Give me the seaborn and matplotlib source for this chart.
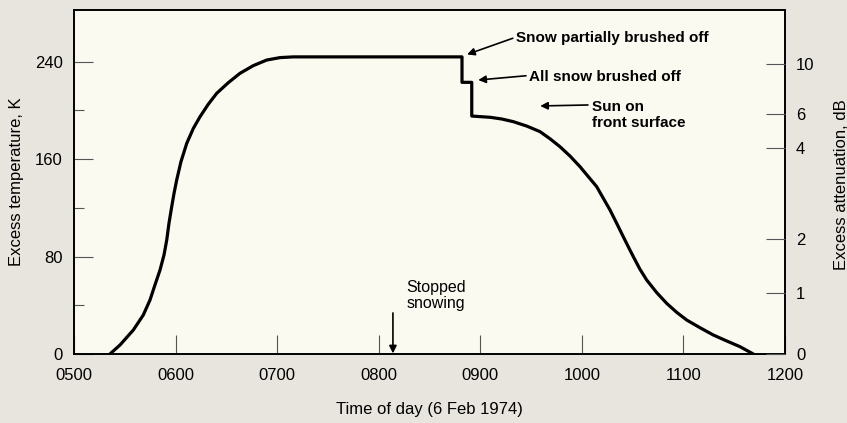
import matplotlib.pyplot as plt
import seaborn as sns
import pandas as pd

sns.set_theme(style="white")
plt.rcParams['font.family'] = ['Liberation Sans', 'DejaVu Sans']
plt.rcParams['text.color'] = 'black'
plt.rcParams['axes.labelcolor'] = 'black'
plt.rcParams['xtick.color'] = 'black'
plt.rcParams['ytick.color'] = 'black'

# time of day in decimal hours, excess temperature in K
rise_time = [5.354, 5.453, 5.584, 5.682, 5.748, 5.797, 5.847, 5.886, 5.913, 5.935, 5.962,
             5.985, 6.011, 6.053, 6.110, 6.175, 6.241, 6.322, 6.405, 6.519, 6.634, 6.765,
             6.897, 7.028, 7.159, 7.42, 8.82]
rise_temp = [0, 7.4, 19.7, 32.0, 44.3, 56.7, 69.0, 81.3, 93.6, 107.3, 121.0,
             132.0, 142.9, 157.9, 173.0, 185.3, 194.9, 205.1, 214.1, 222.8, 230.5, 236.8,
             241.4, 243.4, 244.0, 244.0, 244.0]
step_time = [8.82, 8.916, 8.916]
step_temp = [223.1, 223.1, 195.4]
fall_time = [9.096, 9.211, 9.325, 9.457, 9.588, 9.686, 9.785, 9.883, 9.982, 10.064,
             10.146, 10.211, 10.277, 10.343, 10.408, 10.457, 10.507, 10.572, 10.638,
             10.737, 10.835, 10.934, 11.032, 11.163, 11.294, 11.426, 11.557, 11.688]
fall_temp = [194.4, 193.0, 190.8, 187.2, 182.6, 176.8, 170.2, 162.6, 153.8, 145.6,
             137.4, 127.9, 118.3, 107.3, 96.3, 88.1, 79.9, 69.6, 60.8,
             50.4, 41.6, 34.2, 27.9, 21.6, 15.6, 10.7, 6.0, 0]

hour_ticks = [5, 6, 7, 8, 9, 10, 11, 12]
hour_labels = ['0500', '0600', '0700', '0800', '0900', '1000', '1100', '1200']
temp_ticks = [0, 80, 160, 240]
temp_minor = [40, 120, 200]
# attenuation scale (dB) and where each tick sits on the K scale
db_labels = ['0', '1', '2', '4', '6', '10']
db_at_temp = [0, 50.1, 94.4, 169.1, 197.1, 238.1]

df = pd.DataFrame({
    'time': rise_time + step_time + fall_time,
    'temp': rise_temp + step_temp + fall_temp,
})

fig = plt.figure(figsize=(8.47, 4.23), dpi=100, facecolor='#e7e5dd')
ax = fig.add_axes([74 / 847, 1 - 354 / 423, 711 / 847, 344 / 423])
ax.set_facecolor('#fbfaf1')

sns.lineplot(data=df, x='time', y='temp', sort=False, estimator=None,
             color='black', linewidth=2.3, ax=ax)
ax.lines[0].set_solid_joinstyle('round')

ax.set_xlim(5, 12)
ax.set_ylim(0, 282.5)
ax.set_xticks(hour_ticks, labels=hour_labels)
ax.set_yticks(temp_ticks)
ax.set_yticks(temp_minor, minor=True)
ax.tick_params(axis='both', which='major', direction='in', length=14, width=0.8,
               color='#555555', labelsize=12, pad=8, bottom=True, left=True)
ax.tick_params(axis='x', pad=10)
ax.tick_params(axis='y', which='minor', direction='in', length=7, width=0.8,
               color='#555555', left=True)
for s in ax.spines.values():
    s.set_color('black')
    s.set_linewidth(1.4)

ax.set_xlabel('Time of day (6 Feb 1974)', fontsize=12, labelpad=14)
ax.set_ylabel('Excess temperature, K', fontsize=12, labelpad=8)

ax2 = ax.twinx()
ax2.set_ylim(ax.get_ylim())
ax2.set_yticks(db_at_temp, labels=db_labels)
ax2.tick_params(axis='y', direction='in', length=14, width=0.8, color='#555555',
                labelsize=12, pad=8, right=True)
ax2.grid(False)
for s in ax2.spines.values():
    s.set_visible(False)
fig.text(841 / 847, 1 - 185 / 423, 'Excess attenuation, dB', rotation=90,
         ha='center', va='center', fontsize=12)

arrow = dict(arrowstyle='-|>', color='black', lw=1.2, mutation_scale=11,
             shrinkA=0, shrinkB=0)
txt = dict(fontsize=11, fontweight='bold', va='center', ha='left')

ax.annotate('', xy=(8.87, 246), xytext=(9.32, 259.3), arrowprops=arrow)
ax.text(9.35, 259.3, 'Snow partially brushed off', **txt)

ax.annotate('', xy=(8.98, 225), xytext=(9.45, 228.5), arrowprops=arrow)
ax.text(9.48, 227.7, 'All snow brushed off', **txt)

ax.annotate('', xy=(9.59, 203.7), xytext=(10.06, 204.5), arrowprops=arrow)
ax.text(10.10, 196.5, 'Sun on\nfront surface', linespacing=1.2, **txt)

ax.annotate('', xy=(8.14, 0.5), xytext=(8.14, 33.7), arrowprops=arrow)
ax.text(8.56, 48, 'Stopped\nsnowing', fontsize=11.5, ha='center', va='center',
        linespacing=1.1)

plt.savefig('out.png', dpi=100, facecolor=fig.get_facecolor())
